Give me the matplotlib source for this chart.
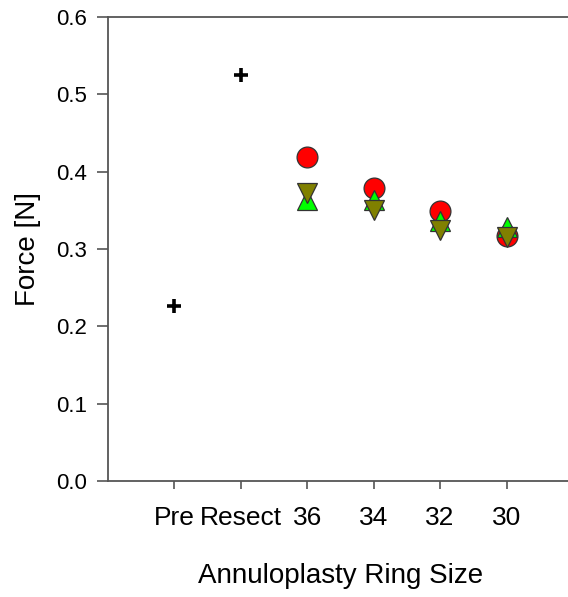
import matplotlib
matplotlib.use("Agg")
import matplotlib.pyplot as plt

plt.rcParams['font.family'] = ['Liberation Sans', 'DejaVu Sans']

categories = ["Pre", "Resect", "36", "34", "32", "30"]
baseline_pos = [0, 1]
baseline_vals = [0.226, 0.525]
ring_pos = [2, 3, 4, 5]
red_vals = [0.419, 0.379, 0.349, 0.317]
green_vals = [0.364, 0.364, 0.336, 0.328]
olive_vals = [0.372, 0.350, 0.324, 0.315]
yticks = [0.0, 0.1, 0.2, 0.3, 0.4, 0.5, 0.6]

fig = plt.figure(figsize=(5.68, 5.97), dpi=100)
ax = fig.add_axes([108/568, 116/597, 465/568, 464/597])

ax.plot(baseline_pos, baseline_vals, linestyle='none', marker='+', color='black',
        markersize=10, markeredgewidth=2.6, zorder=3)
ax.plot(ring_pos, red_vals, linestyle='none', marker='o', markerfacecolor='#FF0000',
        markeredgecolor='#333333', markeredgewidth=0.9, markersize=15, zorder=3)
ax.plot(ring_pos, green_vals, linestyle='none', marker='^', markerfacecolor='#00FF00',
        markeredgecolor='#333333', markeredgewidth=0.9, markersize=14, zorder=4)
ax.plot(ring_pos, olive_vals, linestyle='none', marker='v', markerfacecolor='#808000',
        markeredgecolor='#333333', markeredgewidth=0.9, markersize=14, zorder=5)

ax.set_xlim(-1, 6)
ax.set_ylim(0, 0.6)
ax.set_xticks(range(len(categories)))
ax.set_xticklabels(categories)
ax.set_yticks(yticks)
ax.set_yticklabels([f"{v:.1f}" for v in yticks])

for s in ['left', 'bottom', 'top', 'right']:
    ax.spines[s].set_color('#555555')
    ax.spines[s].set_linewidth(1.3)

ax.tick_params(axis='y', direction='out', length=8, width=1.2, color='#555555',
               labelsize=16, pad=7)
ax.tick_params(axis='x', direction='out', length=6, width=1.2, color='#555555',
               labelsize=19, pad=12)

ax.set_xlabel("Annuloplasty Ring Size", fontsize=20, labelpad=24)
ax.set_ylabel("Force [N]", fontsize=20, labelpad=11)

fig.savefig("out.png", dpi=100)
